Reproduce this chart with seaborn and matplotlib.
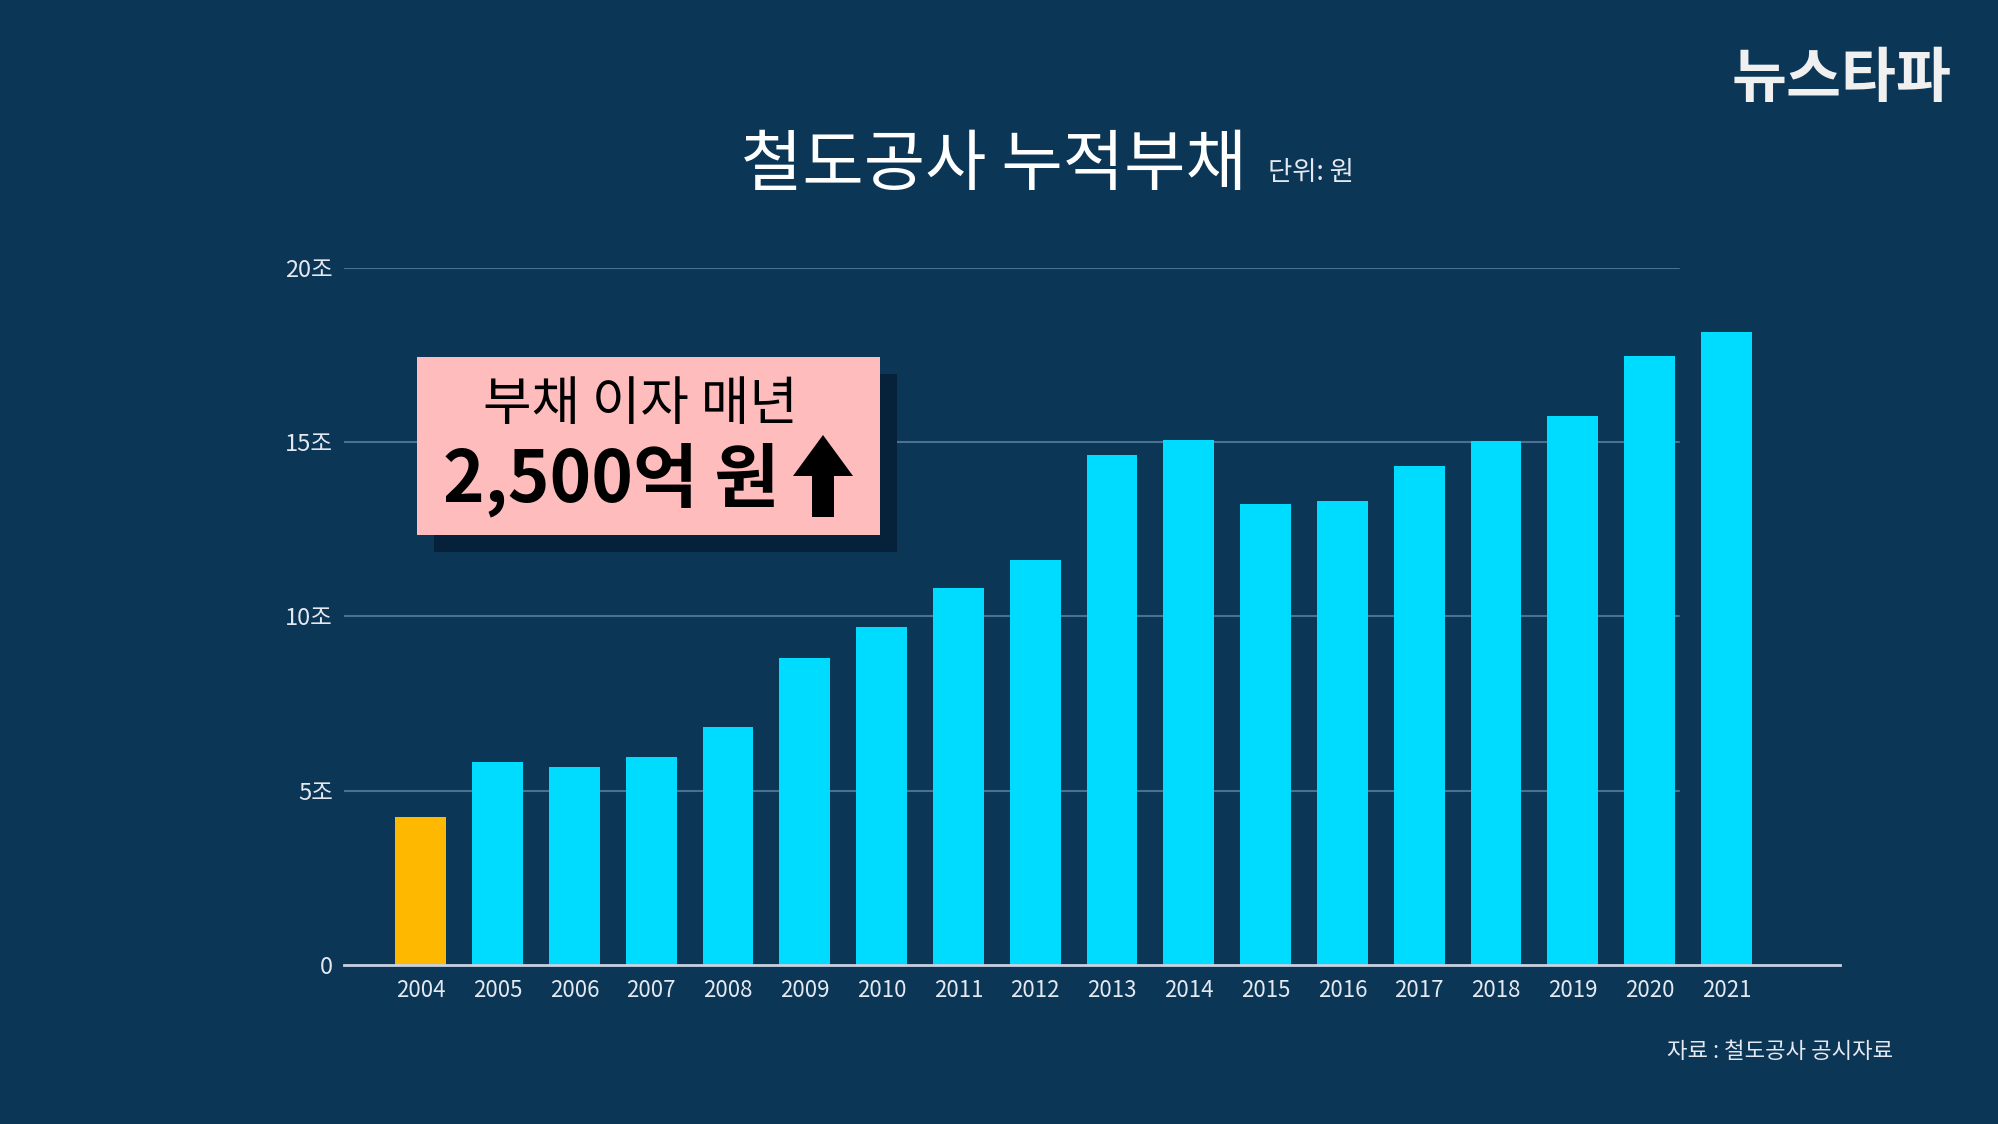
import numpy as np
import pandas as pd
import matplotlib.pyplot as plt
import matplotlib.patches as patches
import seaborn as sns

years = [str(y) for y in range(2004, 2022)]
debt = [4.24, 5.81, 5.67, 5.96, 6.84, 8.81, 9.69, 10.82, 11.63,
        14.63, 15.06, 13.24, 13.31, 14.33, 15.03, 15.76, 17.48, 18.17]
ytick_vals = [0, 5, 10, 15, 20]
ytick_labels = ['0', '5조', '10조', '15조', '20조']

bg = '#0b3656'
cyan = '#00dcff'
orange = '#ffb800'
colors = [orange] + [cyan] * (len(years) - 1)

sns.set_theme(style='white')
plt.rcParams['font.family'] = ['Noto Sans CJK KR', 'DejaVu Sans']

df = pd.DataFrame({'year': years, 'debt': debt})

fig = plt.figure(figsize=(19.99, 11.24), dpi=100, facecolor=bg)
ax = fig.add_axes([0.1721, 0.1415, 0.7484, 0.6201])
ax.set_facecolor(bg)

# grid lines (shorter than the baseline)
for v in ytick_vals[1:]:
    ax.axhline(v, xmin=0, xmax=0.892, color='#4a7190', lw=1.5, zorder=0)

sns.barplot(data=df, x='year', y='debt', hue='year', palette=colors,
            legend=False, width=0.66, saturation=1, linewidth=0,
            edgecolor='none', ax=ax, zorder=2)

ax.set_xlim(-1.0, 18.48)
ax.set_ylim(0, 20)
ax.set_yticks(ytick_vals)
ax.set_yticklabels(ytick_labels)
ax.set_xlabel('')
ax.set_ylabel('')
for s in ['top', 'right', 'left']:
    ax.spines[s].set_visible(False)
ax.spines['bottom'].set_color('#c8d2e2')
ax.spines['bottom'].set_linewidth(2)
ax.tick_params(axis='both', length=0, colors='#e4e8f0')
ax.tick_params(axis='y', labelsize=17, pad=8)
ax.tick_params(axis='x', labelsize=16, pad=10)

# title
fig.text(0.497, 0.852, '철도공사 누적부채', color='white', fontsize=48,
         fontweight='medium', ha='center', va='center')
fig.text(1268 / 1999, 1 - 172 / 1124, '단위: 원', color='#e4e8f0', fontsize=19,
         ha='left', va='center')

# logo
fig.text(0.921, 0.929, '뉴스타파', color='#f0f0f0', fontsize=43,
         fontweight='black', ha='center', va='center', style='italic')

# annotation box with shadow
W, H = 1999, 1124
x0, y0, x1, y1 = 417, 357, 880, 535
shadow = patches.Rectangle(((x0 + 17) / W, 1 - (y1 + 17) / H), (x1 - x0) / W,
                           (y1 - y0) / H, transform=fig.transFigure,
                           facecolor='#06223a', edgecolor='none', zorder=5)
box = patches.Rectangle((x0 / W, 1 - y1 / H), (x1 - x0) / W, (y1 - y0) / H,
                        transform=fig.transFigure, facecolor='#ffbcbc',
                        edgecolor='none', zorder=6)
fig.patches.extend([shadow, box])
fig.text(640 / W, 1 - 404 / H, '부채 이자 매년', color='black', fontsize=38,
         ha='center', va='center', zorder=7)
fig.text(443 / W, 1 - 480 / H, '2,500억 원', color='black', fontsize=51,
         fontweight='black', ha='left', va='center', zorder=7)
arrow = patches.Polygon([[823 / W, 1 - 435 / H], [853 / W, 1 - 476 / H],
                         [834 / W, 1 - 476 / H], [834 / W, 1 - 517 / H],
                         [812 / W, 1 - 517 / H], [812 / W, 1 - 476 / H],
                         [793 / W, 1 - 476 / H]],
                        closed=True, transform=fig.transFigure,
                        facecolor='black', edgecolor='none', zorder=7)
fig.patches.append(arrow)

# source
fig.text(1893 / W, 1 - 1052 / H, '자료 : 철도공사 공시자료', color='#e4e8f0',
         fontsize=16, ha='right', va='center')

fig.savefig('out.png', dpi=100, facecolor=bg)
